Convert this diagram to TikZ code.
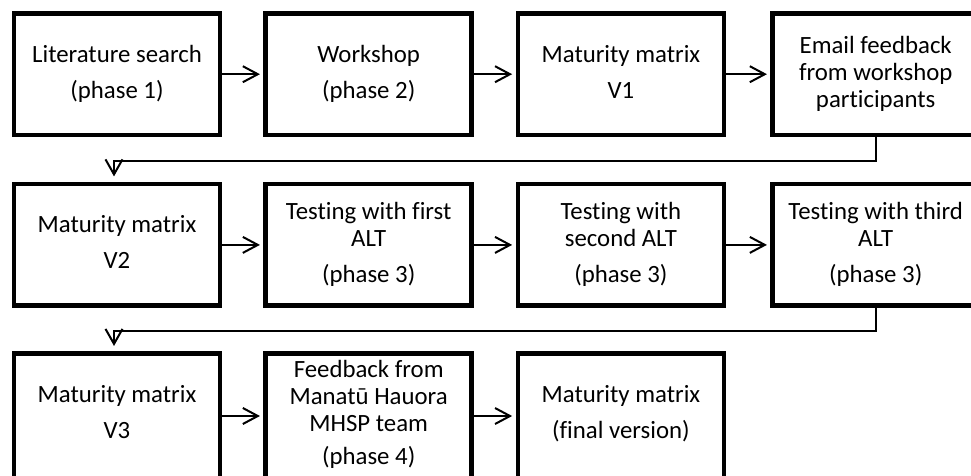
\documentclass[tikz,border=0pt]{standalone}
\usepackage{fontspec}
\setmainfont{Carlito}[Ligatures=CommonOff]
\usetikzlibrary{arrows.meta}
\newcommand{\boxtop}{\rule{0pt}{16.5pt}}
\newcommand{\boxbot}{\rule[-5pt]{0pt}{5pt}}
\newcommand{\boxbotlow}{\rule[-15pt]{0pt}{15pt}}
\begin{document}
\begin{tikzpicture}[x=1pt,y=-1pt,
  box/.style={draw,line width=4.5pt,minimum width=206pt,minimum height=121.5pt,inner sep=0pt,align=center,font=\fontsize{24.8}{27}\selectfont},
  lowbox/.style={box,minimum height=131.5pt},
  arr/.style={line width=2pt,-{Straight Barb[length=15pt,width=16pt]},shorten >=3.5pt},
  conn/.style={line width=2pt,-{Straight Barb[length=15pt,width=17pt]},shorten >=5.5pt}]
\useasboundingbox (0,0) rectangle (971,476);
\clip (0,0) rectangle (971,476);
% row 1
\node[box] (a1) at (117,74.2) {\boxtop Literature search\\[9pt](phase 1)\boxbot};
\node[box] (a2) at (368.7,74.2) {\boxtop Workshop\\[9pt](phase 2)\boxbot};
\node[box] (a3) at (620.9,74.2) {\boxtop Maturity matrix\\[9pt]V1\boxbot};
\node[box] (a4) at (875.7,74.2) {\boxtop Email feedback\\from workshop\\participants\boxbot};
% row 2
\node[box] (b1) at (117,244.9) {\boxtop Maturity matrix\\[9pt]V2\boxbot};
\node[box] (b2) at (368.7,244.9) {\boxtop Testing with first\\ALT\\[9pt](phase 3)\boxbot};
\node[box] (b3) at (620.9,244.9) {\boxtop Testing with\\second ALT\\[9pt](phase 3)\boxbot};
\node[box] (b4) at (875.7,244.9) {\boxtop Testing with third\\ALT\\[9pt](phase 3)\boxbot};
% row 3
\node[lowbox] (c1) at (117,419.45) {\boxtop Maturity matrix\\[9pt]V3\boxbotlow};
\node[lowbox] (c2) at (368.7,419.45) {\boxtop Feedback from\\Manatū Hauora\\MHSP team\\[6pt](phase 4)\boxbotlow};
\node[lowbox] (c3) at (620.9,419.45) {\boxtop Maturity matrix\\[9pt](final version)\boxbotlow};
% arrows
\draw[arr] (a1.east) -- (a2.west);
\draw[arr] (a2.east) -- (a3.west);
\draw[arr] (a3.east) -- (a4.west);
\draw[arr] (b1.east) -- (b2.west);
\draw[arr] (b2.east) -- (b3.west);
\draw[arr] (b3.east) -- (b4.west);
\draw[arr] (c1.east |- 0,416) -- (c2.west |- 0,416);
\draw[arr] (c2.east |- 0,416) -- (c3.west |- 0,416);
% row connectors
\coordinate (k1) at (875.7,160.5);
\coordinate (k2) at (114,160.5);
\draw[conn] (a4.south) -- (k1) -- (k2) -- (k2 |- b1.north);
\coordinate (k3) at (875.7,330.7);
\coordinate (k4) at (114,330.7);
\draw[conn] (b4.south) -- (k3) -- (k4) -- (k4 |- c1.north);
\end{tikzpicture}
\end{document}
